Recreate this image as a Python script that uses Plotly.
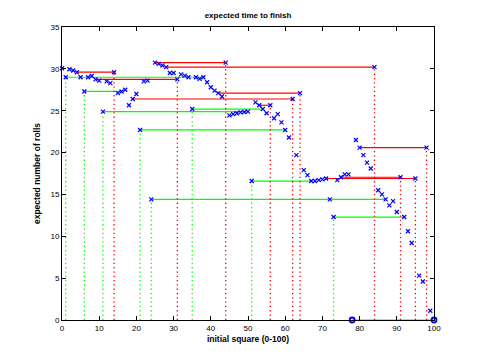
import plotly.graph_objects as go

# expected number of rolls to finish, for squares 0..100
squares = list(range(101))
expected = [
    30.07, 29.0, 29.95, 29.8, 29.6, 29.0, 27.3, 29.0, 29.15, 28.75,   # 0-9
    28.6, 24.9, 28.5, 28.3, 29.6, 27.1, 27.3, 27.5, 25.65, 26.4,      # 10-19
    27.0, 22.7, 28.5, 28.6, 14.4, 30.75, 30.6, 30.4, 30.2, 29.5,      # 20-29
    29.5, 28.75, 29.35, 29.2, 29.0, 25.2, 29.0, 28.8, 29.0, 28.4,     # 30-39
    27.8, 27.4, 27.1, 26.7, 30.75, 24.45, 24.6, 24.7, 24.8, 24.85,    # 40-49
    24.9, 16.6, 26.0, 25.65, 25.2, 24.7, 25.65, 24.1, 24.6, 23.6,     # 50-59
    22.7, 21.8, 26.4, 19.7, 27.1, 17.9, 17.3, 16.6, 16.6, 16.7,       # 60-69
    16.8, 16.9, 14.4, 12.3, 16.7, 17.05, 17.4, 17.4, 0.0, 21.5,       # 70-79
    20.6, 19.7, 18.8, 18.1, 30.2, 15.5, 15.0, 14.4, 13.7, 14.2,       # 80-89
    12.9, 17.05, 12.3, 10.6, 9.2, 16.9, 5.3, 4.6, 20.6, 1.1,          # 90-99
    0.0,                                                              # 100
]

# ladders (go up) and snakes (go down): start square -> end square
jump_start = [1, 6, 11, 21, 24, 35, 51, 73, 78, 14, 31, 44, 56, 62, 64, 84, 91, 95, 98]
jump_end = [38, 16, 50, 60, 87, 54, 67, 92, 100, 4, 9, 25, 53, 19, 42, 28, 75, 71, 80]

fig = go.Figure()

for kind, color in (("ladder", "#00ff00"), ("snake", "#ff0000")):
    vx, vy, hx, hy = [], [], [], []
    for s, e in zip(jump_start, jump_end):
        if (e > s) != (kind == "ladder"):
            continue
        val = expected[s]
        vx += [s, s, None]
        vy += [0, val, None]
        hx += [s, e, None]
        hy += [val, val, None]
    fig.add_trace(go.Scatter(x=vx, y=vy, mode="lines", showlegend=False,
                             line=dict(color=color, width=1.3, dash="1.3px,3px"),
                             hoverinfo="skip"))
    fig.add_trace(go.Scatter(x=hx, y=hy, mode="lines", showlegend=False,
                             line=dict(color=color, width=1.2), hoverinfo="skip"))

xs = [s for s, v in zip(squares, expected) if v > 0]
ys = [v for v in expected if v > 0]
x0 = [s for s, v in zip(squares, expected) if v == 0]
y0 = [v for v in expected if v == 0]

fig.add_trace(go.Scatter(x=xs, y=ys, mode="markers", showlegend=False,
                         marker=dict(symbol="x-thin", size=4, color="#0000ff",
                                     line=dict(width=1.2, color="#0000ff")),
                         cliponaxis=False))
fig.add_trace(go.Scatter(x=x0, y=y0, mode="markers", showlegend=False,
                         marker=dict(symbol="circle-open", size=5, color="#0000ff",
                                     line=dict(width=1.8, color="#0000ff")),
                         cliponaxis=False))

font = "Liberation Sans, Arial, sans-serif"
axis_common = dict(showline=True, linecolor="black", linewidth=1, mirror="ticks",
                   ticks="inside", ticklen=4, tickcolor="black", tickwidth=1,
                   showgrid=False, zeroline=False, automargin=False,
                   tickfont=dict(family=font, size=8, color="black"))

# the page body adds an 8px offset, so the margins compensate for it
fig.update_layout(
    width=480, height=360,
    margin=dict(l=54, r=54, t=19, b=48),
    paper_bgcolor="white", plot_bgcolor="white",
    title=dict(text="<b>expected time to finish</b>", x=0.5, xref="paper",
               y=1 - 7 / 360, yref="container", yanchor="middle",
               font=dict(family=font, size=8, color="black")),
    xaxis=dict(range=[0, 100], tickvals=list(range(0, 101, 10)),
               title=dict(text="<b>initial square (0-100)</b>", standoff=4,
                          font=dict(family=font, size=8.5, color="black")),
               **axis_common),
    yaxis=dict(range=[0, 35], tickvals=list(range(0, 36, 5)),
               title=dict(text="<b>expected number of rolls</b>", standoff=8,
                          font=dict(family=font, size=8.5, color="black")),
               **axis_common),
)

fig.write_html("out.html")
